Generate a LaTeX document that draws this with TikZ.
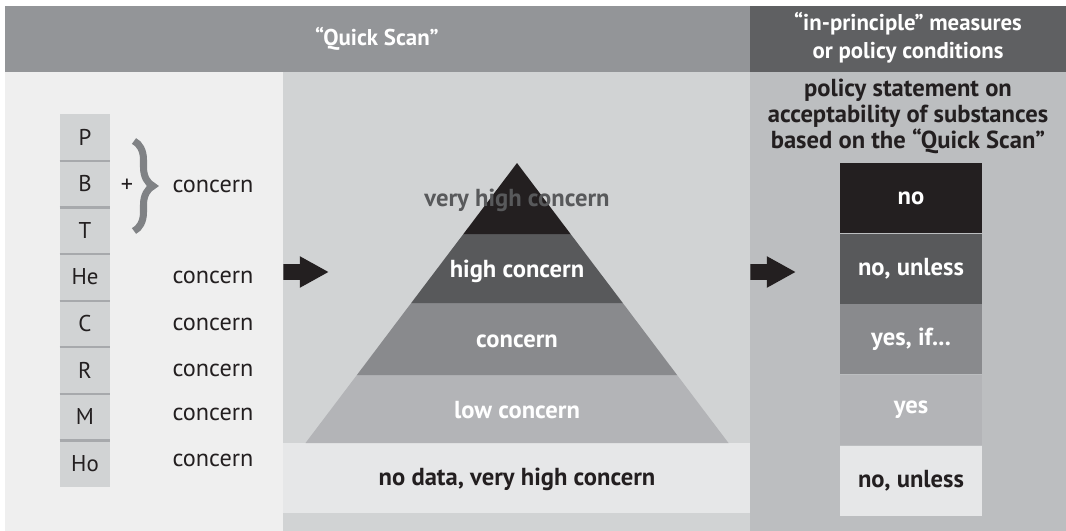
\documentclass[tikz,border=0pt]{standalone}
\usepackage{fontspec}
\setmainfont{PT Sans}
\usepackage{tikz}
\usetikzlibrary{shapes.arrows,decorations.pathreplacing,positioning}
\definecolor{hdrGray}{HTML}{939598}
\definecolor{hdrDark}{HTML}{5F6062}
\definecolor{panelLight}{HTML}{EFEFEF}
\definecolor{panelMid}{HTML}{D1D3D4}
\definecolor{panelRight}{HTML}{BCBEC0}
\definecolor{bandLight}{HTML}{E6E7E8}
\definecolor{lvlBlack}{HTML}{231F20}
\definecolor{lvlDark}{HTML}{58595B}
\definecolor{lvlMid}{HTML}{898A8D}
\definecolor{lvlLight}{HTML}{B3B4B7}
\definecolor{sepGray}{HTML}{A7A9AC}
\definecolor{braceGray}{HTML}{808285}

\begin{document}
\begin{tikzpicture}[x=0.02cm, y=-0.02cm,
    hdr/.style={text=white, font=\bfseries\fontsize{13}{16}\selectfont, align=center},
    cell/.style={fill=panelMid, minimum width=1cm, minimum height=0.932cm,
      inner sep=0pt, font=\fontsize{13}{15}\selectfont, text=lvlBlack},
    lvl/.style={font=\bfseries\fontsize{14}{15}\selectfont, text=white},
    answer/.style={minimum width=2.84cm, minimum height=1.4cm, inner sep=0pt,
      font=\bfseries\fontsize{14}{15}\selectfont, text=white},
    conc/.style={font=\fontsize{13.8}{15}\selectfont, text=lvlBlack},
    blockarrow/.style={single arrow, fill=lvlBlack, minimum height=0.9cm,
      inner xsep=0pt, inner ysep=0.15cm, single arrow head extend=0.16cm,
      single arrow tip angle=58, anchor=tail}
  ]
  \useasboundingbox (0,0) rectangle (1066,531);
  % panels
  \fill[hdrGray] (5,6) rectangle (750,72);
  \fill[hdrDark] (750,6) rectangle (1066,72);
  \fill[panelLight] (5,72) rectangle (283,531);
  \fill[panelMid] (283,72) rectangle (750,531);
  \fill[bandLight] (283,443) rectangle (750,513);
  \fill[panelRight] (750,72) rectangle (1066,531);

  \node[hdr] (qs) at (377,39) {“Quick Scan”};
  \node[hdr] (ipm) at (908,38) {“in-principle” measures\\or policy conditions};

  % letter column
  \foreach \l [count=\i] in {P,B,T,He,C,R,M,Ho}
    \node[cell] (c\i) at (85,{137.3+46.6*(\i-1)}) {\l};
  \foreach \i in {1,...,7}
    \draw[sepGray, line width=1.2pt] (c\i.south west) -- (c\i.south east);

  \coordinate (br1) at (134,141);
  \coordinate (br2) at (134,231);
  \draw[braceGray, line width=4pt, decorate,
    decoration={brace, amplitude=0.38cm}] (br1) -- (br2);
  \node[conc] (plus) at (127,186) {+};
  \node[conc] (k2) at (213,186) {concern};
  \node[conc] (k4) at (213,277) {concern};
  \node[conc] (k5) at (213,324) {concern};
  \node[conc] (k6) at (213,370) {concern};
  \node[conc] (k7) at (213,414) {concern};
  \node[conc] (k8) at (213,460) {concern};

  \node[blockarrow] (arrQS) at (283,272) {};

  % pyramid
  \fill[lvlLight] (356.9,375) -- (677.1,375) -- (728.5,443) -- (305.5,443) -- cycle;
  \fill[lvlMid] (411.2,303) -- (622.8,303) -- (677.1,375) -- (356.9,375) -- cycle;
  \fill[lvlDark] (463.4,234) -- (570.6,234) -- (622.8,303) -- (411.2,303) -- cycle;
  \fill[lvlBlack] (517,163) -- (570.6,234) -- (463.4,234) -- cycle;
  \node[lvl, text=lvlDark] (l1) at (517,200) {very high concern};
  \node[lvl] (l2) at (517,271) {high concern};
  \node[lvl] (l3) at (517,341) {concern};
  \node[lvl] (l4) at (517,410) {low concern};
  \node[lvl, text=lvlBlack] (l5) at (517,479) {no data, very high concern};

  \node[blockarrow] (arrPol) at (750,272) {};

  % policy column
  \node[font=\bfseries\fontsize{14}{14.8}\selectfont, text=lvlBlack, align=center]
    (pol) at (908,116) {policy statement on\\acceptability of substances\\based on the “Quick Scan”};
  \node[answer, fill=lvlBlack] (a1) at (911,198) {no};
  \node[answer, fill=lvlDark, below=0pt of a1] (a2) {no, unless};
  \node[answer, fill=lvlMid, below=0pt of a2] (a3) {yes, if...};
  \node[answer, fill=lvlLight, below=0pt of a3] (a4) {yes};
  \node[answer, fill=bandLight, text=lvlBlack, below=0pt of a4] (a5) {no, unless};
\end{tikzpicture}
\end{document}
